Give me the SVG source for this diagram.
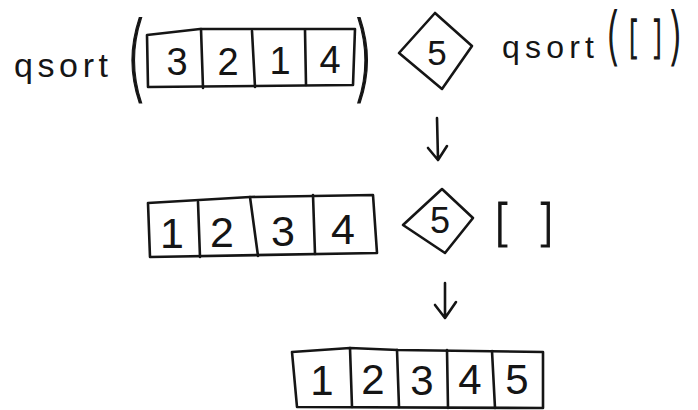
<svg xmlns="http://www.w3.org/2000/svg" width="698" height="410" viewBox="0 0 698 410">
<style>
.ln{fill:none;stroke:#151515;stroke-width:2.6;stroke-linecap:round;stroke-linejoin:round}
.t{font-family:"Liberation Sans",Arial,sans-serif;fill:#151515}
.p{font-family:"DejaVu Sans","Liberation Sans",sans-serif;font-weight:200;fill:#151515;stroke:#151515;stroke-width:0.9}
.d{font-family:"Liberation Sans",Arial,sans-serif;fill:#151515;text-anchor:middle}
</style>
<rect width="698" height="410" fill="#ffffff"/>
<g id="expr-top">
<text class="t" x="14" y="77" font-size="34" textLength="94" lengthAdjust="spacing">qsort</text>
<text class="p" transform="translate(126,90) scale(1.2,2.1)" font-size="45">(</text>
<text class="p" transform="translate(352,90) scale(1.2,2.1)" font-size="45">)</text>
</g>
<g id="array-3214">
<path class="ln" d="M147,35 L200,29 L355,29 L353,85 L148,87 Z"/>
<path class="ln" d="M201,29 L203,88 M252,31 L255,87 M305,30 L306,85"/>
<text class="d" x="177" y="75" font-size="38">3</text>
<text class="d" x="228" y="75" font-size="38">2</text>
<text class="d" x="280" y="74" font-size="38">1</text>
<text class="d" x="330" y="73" font-size="38">4</text>
</g>
<g id="pivot-top">
<path class="ln" d="M399,53 L435,13 L472,46 L442,89 Z"/>
<text class="d" x="437" y="65" font-size="35">5</text>
</g>
<g id="qsort-empty">
<text class="t" x="502" y="58" font-size="32" textLength="92" lengthAdjust="spacing">qsort</text>
<text class="p" transform="translate(606,57) scale(1.2,2.05)" font-size="30">(</text>
<text class="p" transform="translate(628,53) scale(1,1.5)" font-size="30">[</text>
<text class="p" transform="translate(651,53) scale(1,1.5)" font-size="30">]</text>
<text class="p" transform="translate(668,57) scale(1.2,2.05)" font-size="30">)</text>
</g>
<g id="array-1234">
<path class="ln" d="M148,203 L250,197 L373,195 L377,253 L150,257 Z"/>
<path class="ln" d="M198,202 L200,257 M250,197 L258,256 M313,195 L315,254"/>
<text class="d" x="172" y="248" font-size="43">1</text>
<text class="d" x="222" y="247" font-size="43">2</text>
<text class="d" x="283" y="246" font-size="43">3</text>
<text class="d" x="343" y="244" font-size="43">4</text>
</g>
<g id="pivot-mid">
<path class="ln" d="M403,225 L442,189 L473,218 L445,253 Z"/>
<text class="d" x="440" y="233" font-size="36">5</text>
</g>
<g id="empty-list">
<text class="p" x="493" y="240" font-size="50" textLength="62" lengthAdjust="spacing">[ ]</text>
</g>
<g id="array-12345">
<path class="ln" d="M292,352 L350,348 L398,350 L543,352 L543,408 L297,407 Z"/>
<path class="ln" d="M350,348 L352,407 M397,350 L399,407 M447,350 L448,408 M492,351 L495,408"/>
<text class="d" x="322" y="395" font-size="42">1</text>
<text class="d" x="373" y="394" font-size="42">2</text>
<text class="d" x="422" y="395" font-size="42">3</text>
<text class="d" x="470" y="394" font-size="42">4</text>
<text class="d" x="517" y="394" font-size="42">5</text>
</g>
<g id="connectors">
<path class="ln" d="M437,118 L438,159 M428,148 L438,160 L447,146"/>
<path class="ln" d="M445,283 L445,318 M435,305 L445,318 L456,302"/>
</g>
</svg>
